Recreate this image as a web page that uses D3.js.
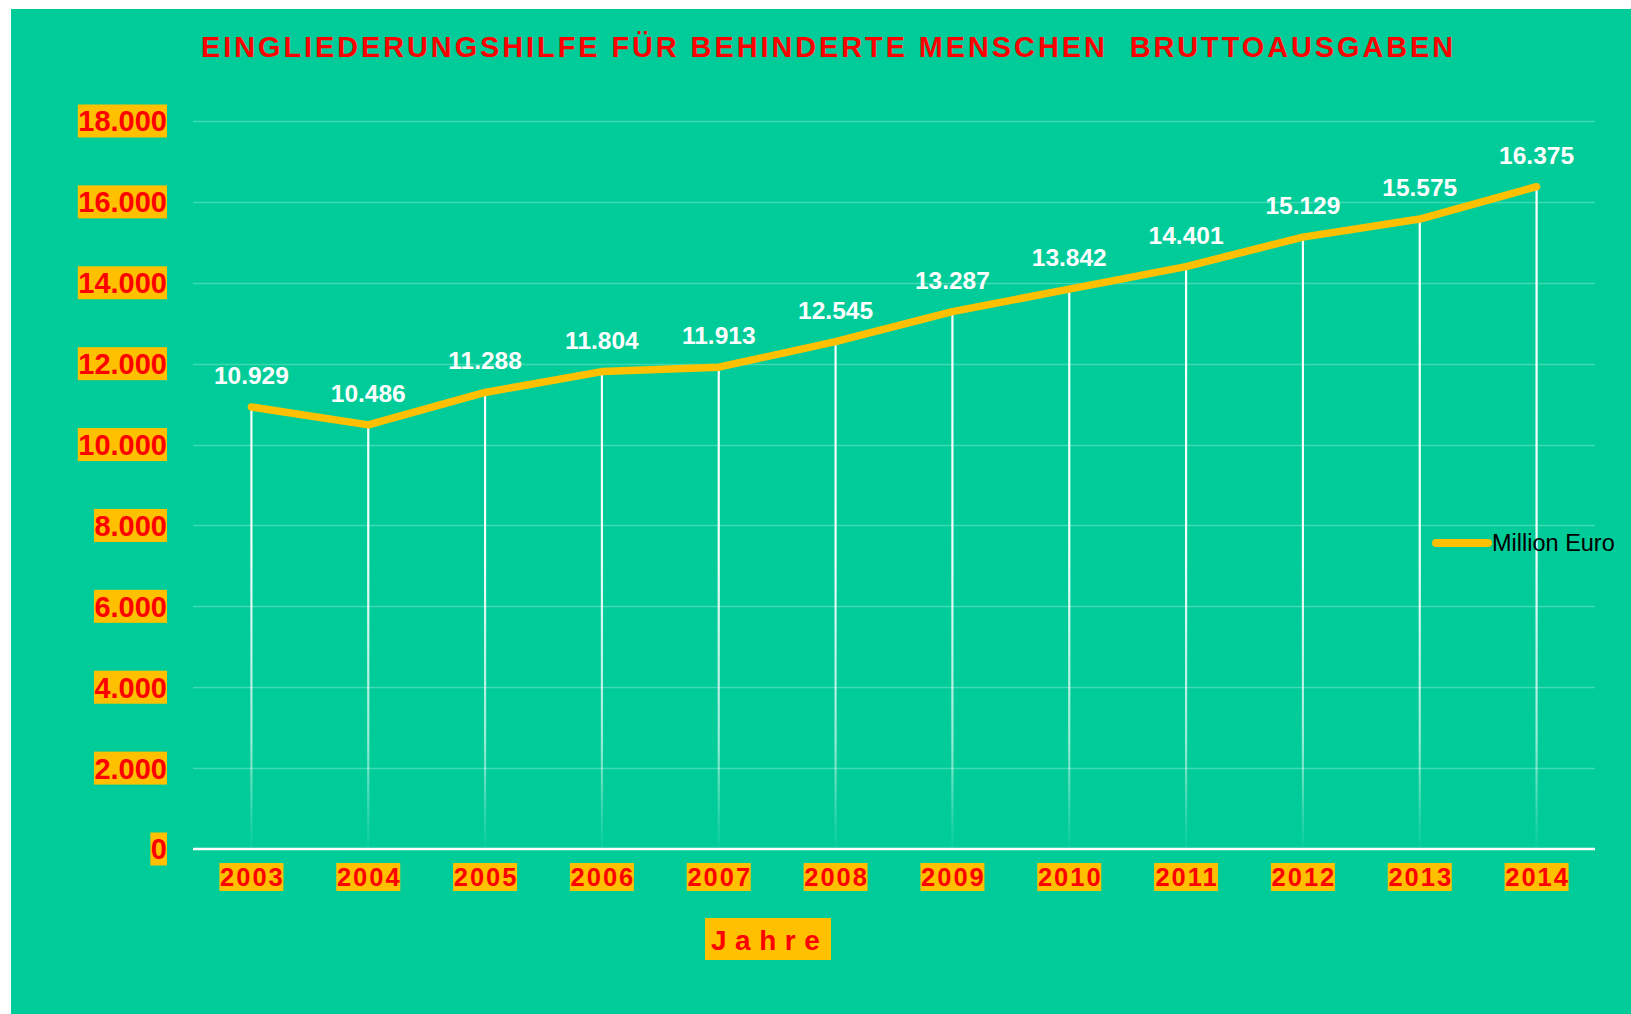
<!DOCTYPE html>
<html><head><meta charset="utf-8">
<script src="https://cdn.jsdelivr.net/npm/d3@7"></script>
<style>
html,body{margin:0;padding:0;background:#fff;}
svg{display:block;}
text{font-family:"Liberation Sans",Arial,sans-serif;}
</style></head>
<body>
<script>
const years = ["2003","2004","2005","2006","2007","2008","2009","2010","2011","2012","2013","2014"];
const values = [10929,10486,11288,11804,11913,12545,13287,13842,14401,15129,15575,16375];
const yTicks = [0,2000,4000,6000,8000,10000,12000,14000,16000,18000];
const titleText = "EINGLIEDERUNGSHILFE FÜR BEHINDERTE MENSCHEN  BRUTTOAUSGABEN";
const xTitle = "Jahre";
const seriesName = "Million Euro";

const W = 1631, H = 1014;
const loc = d3.formatLocale({decimal:",", thousands:".", grouping:[3], currency:["","€"]});
const fmt = loc.format(",d");

const svg = d3.select("body").append("svg").attr("width", W).attr("height", H);

svg.append("rect").attr("x",11).attr("y",9).attr("width",W-11).attr("height",H-9).attr("fill","#00CC99");

const x = d3.scalePoint().domain(years).range([193,1595]).padding(0.5);
const y = d3.scaleLinear().domain([0,18000]).range([849,121]);

const defs = svg.append("defs");
const g = defs.append("linearGradient").attr("id","dropg").attr("gradientUnits","userSpaceOnUse")
  .attr("x1",0).attr("x2",0).attr("y1",121).attr("y2",849);
[[0,1],[0.6,0.95],[0.85,0.6],[0.95,0.2],[1,0.02]].forEach(([o,a])=>g.append("stop").attr("offset",o).attr("stop-color","#fff").attr("stop-opacity",a));

svg.append("g").selectAll("line").data(yTicks.filter(d=>d>0)).join("line")
  .attr("x1",193).attr("x2",1595).attr("y1",d=>Math.round(y(d))+0.5).attr("y2",d=>Math.round(y(d))+0.5)
  .attr("stroke","#fff").attr("stroke-opacity",0.25).attr("stroke-width",1.3);

svg.append("g").selectAll("line").data(values).join("line")
  .attr("x1",(d,i)=>x(years[i])).attr("x2",(d,i)=>x(years[i]))
  .attr("y1",d=>y(d)).attr("y2",849)
  .attr("stroke","url(#dropg)").attr("stroke-width",2.2);

svg.append("line").attr("x1",193).attr("x2",1595).attr("y1",849).attr("y2",849).attr("stroke","#fff").attr("stroke-width",2.5);

const line = d3.line().x((d,i)=>x(years[i])).y(d=>y(d));
svg.append("path").datum(values).attr("d",line).attr("fill","none")
  .attr("stroke","#FFC000").attr("stroke-width",7.5).attr("stroke-linecap","round").attr("stroke-linejoin","round");

svg.append("g").selectAll("text").data(values).join("text")
  .attr("x",(d,i)=>x(years[i])).attr("y",d=>y(d)-23)
  .attr("text-anchor","middle").attr("fill","#fff").attr("font-weight","bold").attr("font-size",24.5)
  .text(d=>fmt(d));

const yl = svg.append("g");
yTicks.forEach(t=>{
  const gg = yl.append("g");
  const r = gg.append("rect").attr("fill","#FFC000");
  const tx = gg.append("text").attr("x",167).attr("y",y(t)).attr("dy","0.36em")
    .attr("text-anchor","end").attr("fill","#FF0000").attr("font-weight","bold").attr("font-size",29).text(fmt(t));
  const b = tx.node().getBBox();
  r.attr("x",b.x-0.5).attr("y",y(t)-16.5).attr("width",167-b.x+0.5).attr("height",33);
});

const xl = svg.append("g");
years.forEach(yr=>{
  const gg = xl.append("g");
  const r = gg.append("rect").attr("fill","#FFC000");
  gg.append("text").attr("x",x(yr)+1).attr("y",877).attr("dy","0.36em")
    .attr("text-anchor","middle").attr("fill","#FF0000").attr("font-weight","bold").attr("font-size",25.5)
    .attr("letter-spacing",2).text(yr);
  r.attr("x",x(yr)-32).attr("y",863).attr("width",64).attr("height",28);
});

const jg = svg.append("g");
jg.append("rect").attr("x",705).attr("y",918).attr("width",126).attr("height",42).attr("fill","#FFC000");
jg.append("text").attr("x",711).attr("y",950).attr("fill","#FF0000").attr("font-weight","bold").attr("font-size",28)
  .attr("letter-spacing",8.5).text(xTitle);

svg.append("text").attr("x",201).attr("y",57).attr("fill","#FF0000").attr("font-weight","bold").attr("font-size",29)
  .attr("letter-spacing",3).attr("textLength",1255).attr("lengthAdjust","spacingAndGlyphs")
  .style("white-space","pre").text(titleText);

svg.append("line").attr("x1",1436).attr("x2",1488).attr("y1",543).attr("y2",543)
  .attr("stroke","#FFC000").attr("stroke-width",8).attr("stroke-linecap","round");
svg.append("text").attr("x",1492).attr("y",551).attr("fill","#000").attr("font-size",23.5).text(seriesName);
</script>
</body></html>
